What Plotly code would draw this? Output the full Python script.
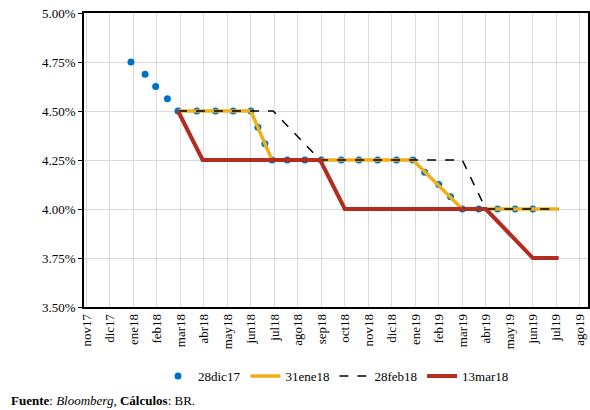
import plotly.graph_objects as go

months = ["nov17","dic17","ene18","feb18","mar18","abr18","may18","jun18","jul18","ago18","sep18",
          "oct18","nov18","dic18","ene19","feb19","mar19","abr19","may19","jun19","jul19","ago19"]

dic17_x = [1.9,2.5,2.95,3.45,3.9,4.7,5.5,6.25,7.0,7.3,7.6,7.9,8.55,9.3,10.0,10.85,11.6,12.4,13.2,13.9,14.4,15.0,15.5,16.0,16.7,17.5,18.25,19.0]
dic17_y = [4.75,4.6875,4.625,4.5625,4.5,4.5,4.5,4.5,4.5,4.4167,4.3333,4.25,4.25,4.25,4.25,4.25,4.25,4.25,4.25,4.25,4.1875,4.125,4.0625,4.0,4.0,4.0,4.0,4.0]
ene18_x = [3.9,7.0,7.9,13.9,16.0,20.1]
ene18_y = [4.5,4.5,4.25,4.25,4.0,4.0]
feb18_x = [3.9,7.95,9.95,16.0,17.0,20.1]
feb18_y = [4.5,4.5,4.25,4.25,4.0,4.0]
mar18_x = [3.9,4.95,9.95,11.0,17.0,19.0,20.1]
mar18_y = [4.5,4.25,4.25,4.0,4.0,3.75,3.75]

yticks = [3.5,3.75,4.0,4.25,4.5,4.75,5.0]

fig = go.Figure()
fig.add_trace(go.Scatter(x=dic17_x, y=dic17_y, mode="markers", name="28dic17",
                         marker=dict(color="#0072C6", size=7)))
fig.add_trace(go.Scatter(x=ene18_x, y=ene18_y, mode="lines", name="31ene18",
                         line=dict(color="#EFAF16", width=3.5)))
fig.add_trace(go.Scatter(x=feb18_x, y=feb18_y, mode="lines", name="28feb18",
                         line=dict(color="black", width=1.5, dash="dash")))
fig.add_trace(go.Scatter(x=mar18_x, y=mar18_y, mode="lines", name="13mar18",
                         line=dict(color="#B22D1F", width=4)))

font = dict(family="Liberation Serif, DejaVu Serif, serif", size=13, color="black")
fig.update_layout(
    width=590, height=410, margin=dict(l=84, r=2, t=13, b=103),
    paper_bgcolor="white", plot_bgcolor="white", font=font,
    legend=dict(orientation="h", x=0.5, xanchor="center", y=-0.235, yanchor="middle",
                font=font, tracegroupgap=0, itemwidth=30),
    xaxis=dict(range=[-0.1, 21.35], tickvals=list(range(len(months))), ticktext=months,
               tickangle=-90, showgrid=True, gridcolor="#D9D9D9", showline=True,
               linecolor="black", linewidth=1.5, mirror=True, zeroline=False, ticks="",
               automargin=False, tickfont=font),
    yaxis=dict(range=[3.5, 5.0], tickvals=yticks, automargin=False, tickfont=font,
               ticktext=[f"{v:.2f}%" for v in yticks], showgrid=True, gridcolor="#D9D9D9",
               showline=True, linecolor="black", linewidth=1.5, mirror=True,
               zeroline=False, ticks="outside", ticklen=4, tickcolor="black"),
    annotations=[dict(xref="paper", yref="paper", x=-0.148, y=-0.318, xanchor="left",
                      yanchor="middle", showarrow=False, font=font,
                      text="<b>Fuente</b>: <i>Bloomberg</i>, <b>Cálculos</b>: BR.")],
)
fig.write_html("out.html", config={"displayModeBar": False})
with open("out.html", encoding="utf-8") as f:
    html = f.read()
html = html.replace("<head>", "<head><style>html,body{margin:0;padding:0;overflow:hidden}</style>", 1)
with open("out.html", "w", encoding="utf-8") as f:
    f.write(html)
